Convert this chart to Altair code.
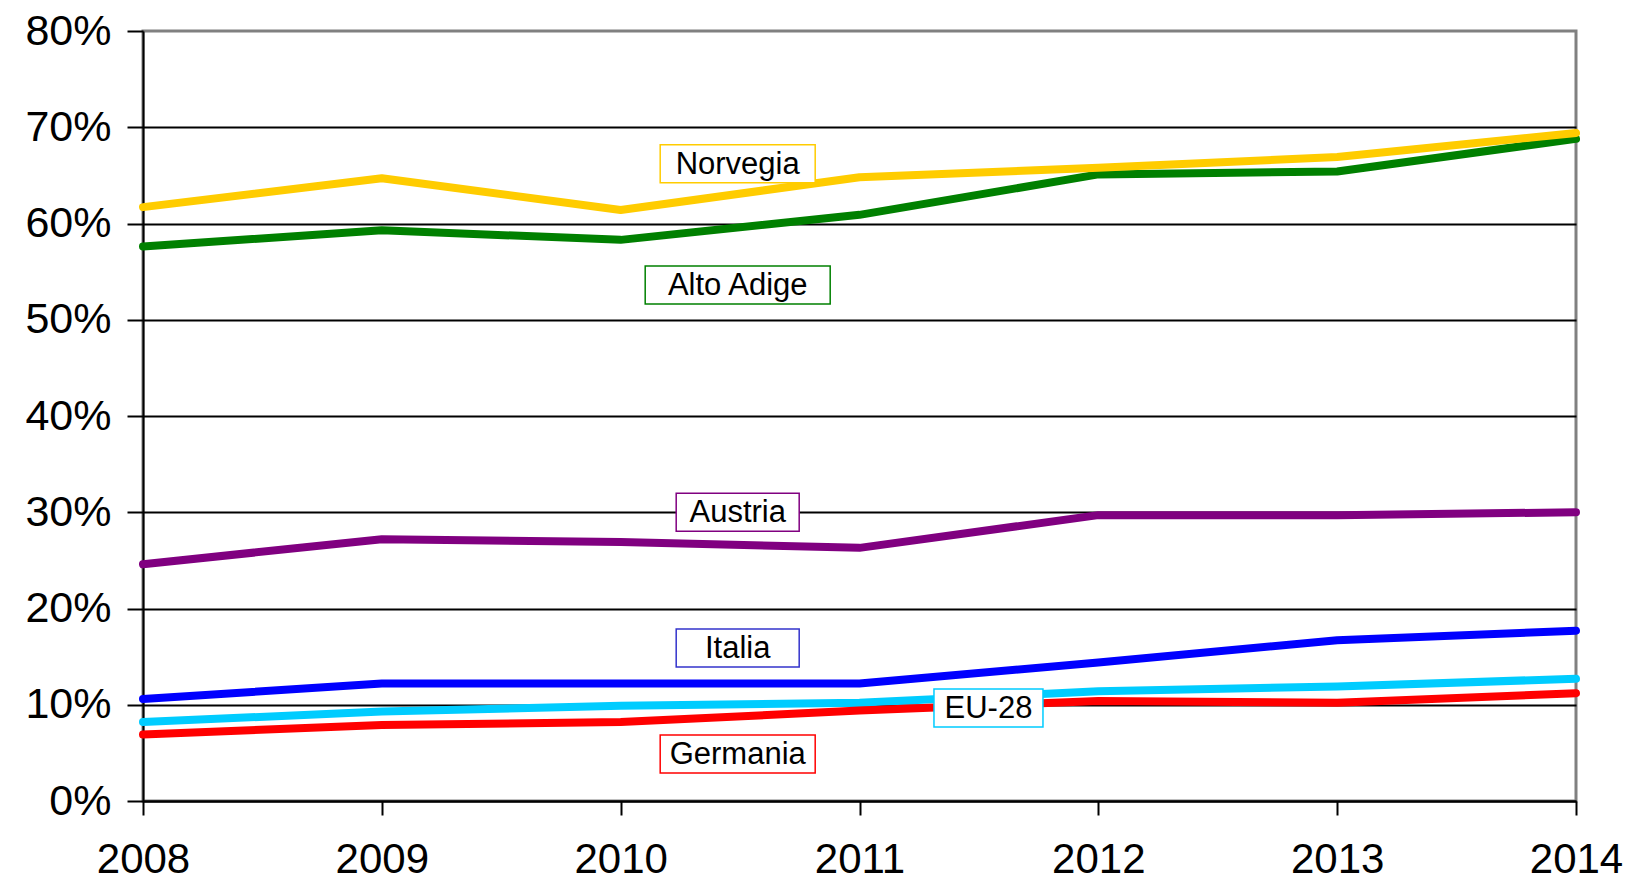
import altair as alt
import pandas as pd

years = [2008, 2009, 2010, 2011, 2012, 2013, 2014]
alto_adige = [0.576, 0.593, 0.583, 0.609, 0.651, 0.654, 0.688]
norvegia = [0.617, 0.647, 0.614, 0.648, 0.658, 0.669, 0.694]
austria = [0.246, 0.272, 0.269, 0.263, 0.297, 0.297, 0.300]
italia = [0.106, 0.122, 0.122, 0.122, 0.144, 0.167, 0.177]
eu28 = [0.082, 0.093, 0.099, 0.102, 0.114, 0.119, 0.127]
germania = [0.069, 0.079, 0.082, 0.094, 0.104, 0.102, 0.112]

series_names = ["Alto Adige", "Norvegia", "Austria", "Italia", "EU-28", "Germania"]
series_values = [alto_adige, norvegia, austria, italia, eu28, germania]
series_colors = ["#008000", "#FFCC00", "#800080", "#0000FF", "#00CCFF", "#FF0000"]
box_colors = ["#008000", "#FFCC00", "#800080", "#3333CC", "#00CCFF", "#FF0000"]

# label annotation anchors (data coordinates)
label_year = [2010.49, 2010.49, 2010.49, 2010.49, 2011.54, 2010.49]
label_value = [0.536, 0.662, 0.300, 0.159, 0.0966, 0.0488]
label_box_w = [185, 155, 123, 123, 109, 155]
label_box_h = 38

rows = []
for name, vals in zip(series_names, series_values):
    for y, v in zip(years, vals):
        rows.append({"year": y, "value": v, "series": name})
df = pd.DataFrame(rows)

FONT = "Liberation Sans"

x_scale = alt.Scale(domain=[2008, 2014], nice=False, zero=False)
y_scale = alt.Scale(domain=[0, 0.8], nice=False)

lines = alt.Chart(df).mark_line(strokeWidth=8, strokeCap="round", strokeJoin="round").encode(
    x=alt.X("year:Q", scale=x_scale, title=None,
            axis=alt.Axis(values=years, format="d", labelFontSize=42, labelFont=FONT,
                          labelColor="black", tickColor="black", tickSize=14, tickWidth=2,
                          domainColor="black", domainWidth=2, grid=False, labelPadding=24,
                          labelOverlap=False, labelFlush=False, labelBound=False)),
    y=alt.Y("value:Q", scale=y_scale, title=None,
            axis=alt.Axis(values=[0, 0.1, 0.2, 0.3, 0.4, 0.5, 0.6, 0.7, 0.8], format=".0%",
                          labelFontSize=43, labelFont=FONT, labelColor="black",
                          tickColor="black", tickSize=16, tickWidth=2,
                          domainColor="black", domainWidth=2, labelPadding=16,
                          grid=True, gridColor="black", gridWidth=2,
                          gridOpacity={"condition": {"test": "datum.value >= 0.79", "value": 0}, "value": 1},
                          labelOverlap=False, labelFlush=False, labelBound=False)),
    color=alt.Color("series:N", scale=alt.Scale(domain=series_names, range=series_colors), legend=None),
    order=alt.Order("series:N"),
)

layers = [lines]
for name, ly, lv, w, col in zip(series_names, label_year, label_value, label_box_w, box_colors):
    d = pd.DataFrame({"year": [ly], "value": [lv], "label": [name]})
    box = alt.Chart(d).mark_rect(
        fill="white", stroke=col, strokeWidth=1.5,
        xOffset=-w / 2, x2Offset=w / 2, yOffset=-label_box_h / 2, y2Offset=label_box_h / 2,
    ).encode(
        x=alt.X("year:Q", scale=x_scale), x2="year:Q",
        y=alt.Y("value:Q", scale=y_scale), y2="value:Q",
    )
    txt = alt.Chart(d).mark_text(
        fontSize=31, font=FONT, color="black", align="center", baseline="middle", dy=1,
    ).encode(
        x=alt.X("year:Q", scale=x_scale),
        y=alt.Y("value:Q", scale=y_scale),
        text="label:N",
    )
    layers += [box, txt]

chart = alt.layer(*layers).properties(
    width=1433, height=770,
    background="white",
    autosize=alt.AutoSizeParams(type="none"),
    padding={"left": 135, "top": 23, "right": 50, "bottom": 74},
).configure_view(stroke="#808080", strokeWidth=3)

chart.save("out.html", embed_options={"renderer": "svg", "actions": False})
